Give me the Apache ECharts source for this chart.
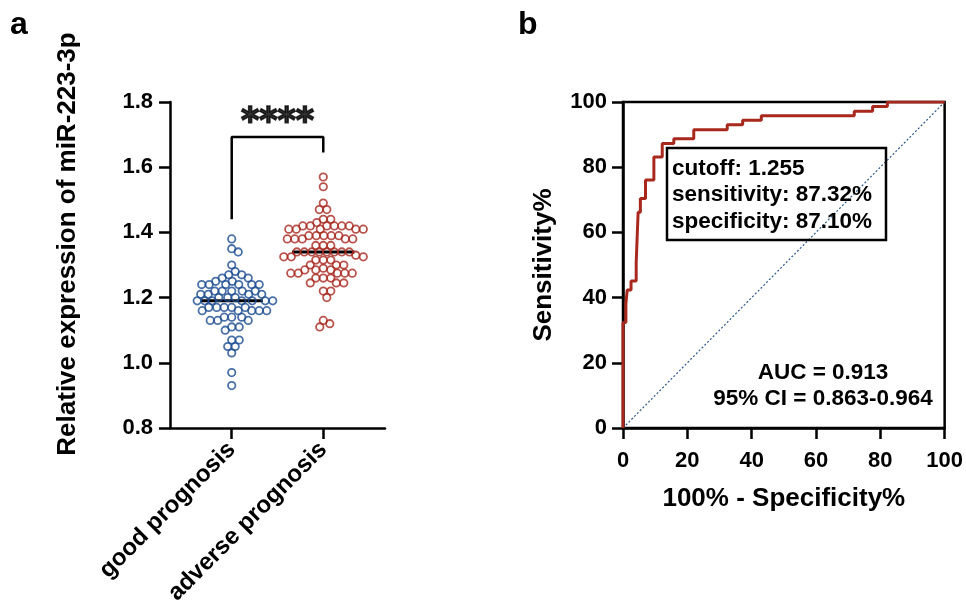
<!DOCTYPE html>
<html>
<head>
<meta charset="utf-8">
<script src="https://cdn.jsdelivr.net/npm/echarts@6/dist/echarts.min.js"></script>
<style>
  html, body { margin: 0; padding: 0; background: #fff; }
  #chart { width: 966px; height: 615px; }
</style>
</head>
<body>
<div id="chart"></div>
<script>
// panel a: relative expression per patient
const groupNames = ['good prognosis', 'adverse prognosis'];
const goodPrognosis = [
  1.38, 1.35, 1.34, 1.30, 1.28, 1.27, 1.27,
  1.26, 1.26, 1.25, 1.25,
  1.24, 1.24, 1.24, 1.24, 1.24, 1.24,
  1.22, 1.22, 1.22, 1.22, 1.22,
  1.21, 1.21, 1.21, 1.21,
  1.20, 1.20, 1.20,
  1.19, 1.19, 1.19, 1.19, 1.19, 1.19, 1.19,
  1.17, 1.17, 1.17, 1.17, 1.17,
  1.16, 1.16, 1.16, 1.16, 1.16,
  1.14, 1.14, 1.14,
  1.13, 1.13, 1.13,
  1.11, 1.11, 1.10,
  1.07, 1.07, 1.05, 1.05, 1.03,
  0.97, 0.93
];
const adversePrognosis = [
  1.57, 1.54, 1.49, 1.47, 1.47, 1.44, 1.44, 1.43,
  1.42, 1.42, 1.42, 1.42, 1.42, 1.42,
  1.41, 1.41, 1.41, 1.41, 1.41,
  1.39, 1.39, 1.39, 1.39, 1.39,
  1.38, 1.38, 1.38, 1.38, 1.38,
  1.36, 1.36, 1.36,
  1.34, 1.34, 1.34, 1.34, 1.34, 1.34, 1.34, 1.34,
  1.33, 1.325, 1.325, 1.325, 1.315, 1.315, 1.315,
  1.30, 1.30, 1.30, 1.29, 1.285, 1.285, 1.285,
  1.275, 1.275, 1.275, 1.275, 1.275,
  1.26, 1.26, 1.26, 1.245, 1.245, 1.245,
  1.22, 1.22, 1.20, 1.13, 1.12, 1.11
];
const exprTicks = [0.8, 1.0, 1.2, 1.4, 1.6, 1.8];
const significance = '****';

// panel b: ROC corners (100% - specificity, sensitivity)
const rocFpr = [0, 0.9, 1.3, 2.5, 4.1, 4.7, 5.4, 7.0, 9.6, 12.2, 15.8, 22, 32.4, 37.2, 43, 71.9, 77.6, 82.2, 100];
const rocTpr = [0, 32.4, 38.0, 42.3, 45.1, 50.7, 66.2, 70.4, 76.1, 83.1, 87.3, 88.7, 91.5, 93.0, 94.4, 95.8, 97.2, 98.6, 100];
const rocTicks = [0, 20, 40, 60, 80, 100];
const cutoffText = ['cutoff: 1.255', 'sensitivity: 87.32%', 'specificity: 87.10%'];
const aucText = ['AUC = 0.913', '95% CI = 0.863-0.964'];

const FONT = '"Liberation Sans", Arial, sans-serif';
const BLUE = '#1d4e91';
const RED = '#a8281e';

// left plot geometry (px) used for the beeswarm spread
const A_LEFT = 170, A_W = 215, A_TOP = 102, A_H = 326;
const X_MIN = 0.326, X_MAX = 2.674;
const pxPerX = A_W / (X_MAX - X_MIN);
const pxPerY = A_H / (exprTicks[exprTicks.length - 1] - exprTicks[0]);

function swarm(vals, center) {
  const d = 7.2;
  const placed = [];
  const out = [];
  vals.slice().sort((a, b) => b - a).forEach(v => {
    const py = v * pxPerY;
    let off = 0;
    for (let k = 0; k < 400; k++) {
      const cand = (k % 2 ? 1 : -1) * Math.ceil(k / 2) * 0.5;
      const ok = placed.every(p => (cand - p.x) ** 2 + (py - p.y) ** 2 >= d * d);
      if (ok) { off = cand; break; }
    }
    placed.push({ x: off, y: py });
    out.push([center + off / pxPerX, v]);
  });
  return out;
}

function median(vals) {
  const s = vals.slice().sort((a, b) => a - b);
  const m = Math.floor(s.length / 2);
  return s.length % 2 ? s[m] : (s[m - 1] + s[m]) / 2;
}

const goodMed = median(goodPrognosis);
const advMed = median(adversePrognosis);
const halfW = 0.34;

const rocLine = [];
for (let i = 0; i < rocFpr.length; i++) {
  if (i > 0) rocLine.push([rocFpr[i - 1], rocTpr[i]]);
  rocLine.push([rocFpr[i], rocTpr[i]]);
}

const axisText = { color: '#000', fontFamily: FONT, fontWeight: 'bold', fontSize: 22 };
const nameText = { color: '#000', fontFamily: FONT, fontWeight: 'bold', fontSize: 26 };
const blackLine = { lineStyle: { color: '#000', width: 2.5 } };
const blackTick = { length: 11, lineStyle: { color: '#000', width: 2.5 } };

const chart = echarts.init(document.getElementById('chart'), null, { renderer: 'canvas' });
chart.setOption({
  animation: false,
  backgroundColor: '#fff',
  grid: [
    { left: A_LEFT, top: A_TOP, width: A_W, height: A_H },
    { left: 623, top: 102, width: 324, height: 326, show: true, borderColor: '#000', borderWidth: 2.5, backgroundColor: 'transparent' }
  ],
  xAxis: [
    {
      gridIndex: 0, type: 'value', min: X_MIN, max: X_MAX,
      splitLine: { show: false },
      axisLine: blackLine,
      axisTick: Object.assign({ show: true, customValues: [1, 2] }, blackTick),
      axisLabel: Object.assign({}, axisText, {
        fontSize: 24, rotate: 45, margin: 18,
        customValues: [1, 2],
        formatter: v => groupNames[Math.round(v) - 1]
      })
    },
    {
      gridIndex: 1, type: 'value', min: 0, max: 100, interval: 20,
      splitLine: { show: false },
      axisLine: blackLine,
      axisTick: blackTick,
      axisLabel: Object.assign({}, axisText, { margin: 22 }),
      name: '100% - Specificity%', nameLocation: 'middle', nameGap: 58,
      nameTextStyle: nameText
    }
  ],
  yAxis: [
    {
      gridIndex: 0, type: 'value', min: 0.8, max: 1.8, interval: 0.2,
      splitLine: { show: false },
      axisLine: blackLine,
      axisTick: blackTick,
      axisLabel: Object.assign({}, axisText, { margin: 17, formatter: v => v.toFixed(1) })
    },
    {
      gridIndex: 1, type: 'value', min: 0, max: 100, interval: 20,
      splitLine: { show: false },
      axisLine: blackLine,
      axisTick: blackTick,
      axisLabel: Object.assign({}, axisText, { margin: 16 }),
      name: 'Sensitivity%', nameLocation: 'middle', nameGap: 66,
      nameTextStyle: nameText
    }
  ],
  series: [
    {
      type: 'line', xAxisIndex: 0, yAxisIndex: 0, symbol: 'none', z: 1,
      data: [[1 - halfW, goodMed], [1 + halfW, goodMed]],
      lineStyle: { color: '#000', width: 3 }
    },
    {
      type: 'line', xAxisIndex: 0, yAxisIndex: 0, symbol: 'none', z: 1,
      data: [[2 - halfW, advMed], [2 + halfW, advMed]],
      lineStyle: { color: '#000', width: 3 }
    },
    {
      name: groupNames[0], type: 'scatter', xAxisIndex: 0, yAxisIndex: 0, z: 3,
      symbol: 'circle', symbolSize: 7.4,
      itemStyle: { color: 'rgba(0,0,0,0)', borderColor: BLUE, borderWidth: 1.8 },
      data: swarm(goodPrognosis, 1)
    },
    {
      name: groupNames[1], type: 'scatter', xAxisIndex: 0, yAxisIndex: 0, z: 3,
      symbol: 'circle', symbolSize: 7.4,
      itemStyle: { color: 'rgba(0,0,0,0)', borderColor: RED, borderWidth: 1.8 },
      data: swarm(adversePrognosis, 2)
    },
    {
      type: 'line', xAxisIndex: 0, yAxisIndex: 0, symbol: 'none', z: 2,
      data: [[1, 1.44], [1, 1.693], [2, 1.693], [2, 1.645]],
      lineStyle: { color: '#000', width: 2.5 }
    },
    {
      type: 'scatter', xAxisIndex: 0, yAxisIndex: 0, symbolSize: 0,
      data: [[1.5, 1.735]],
      label: { show: true, formatter: significance, position: 'inside', color: '#000',
        textBorderColor: '#000', textBorderWidth: 1.6,
        fontFamily: '"DejaVu Sans", sans-serif', fontWeight: 'bold', fontSize: 35 }
    },
    {
      type: 'line', xAxisIndex: 1, yAxisIndex: 1, symbol: 'none', z: 2,
      data: [[0, 0], [100, 100]],
      lineStyle: { color: '#2f5a8f', width: 1.2, type: [2, 2] }
    },
    {
      type: 'line', xAxisIndex: 1, yAxisIndex: 1, symbol: 'none', z: 3,
      data: rocLine,
      lineStyle: { color: RED, width: 3 }
    }
  ],
  graphic: [
    { type: 'text', left: 10, top: 9, style: { text: 'a', font: 'bold 32px ' + FONT, fill: '#000' } },
    { type: 'text', left: 518, top: 9, style: { text: 'b', font: 'bold 32px ' + FONT, fill: '#000' } },
    {
      type: 'text', x: 68, y: 244, rotation: Math.PI / 2,
      style: { text: 'Relative expression of miR-223-3p', font: 'bold 26px ' + FONT, fill: '#000', align: 'center', verticalAlign: 'middle' }
    },
    {
      type: 'rect', shape: { x: 667, y: 148, width: 219, height: 92 },
      style: { fill: 'none', stroke: '#000', lineWidth: 2.5 }, z: 10
    },
    {
      type: 'text', x: 672, y: 195, z: 10,
      style: { text: cutoffText.join('\n'), font: 'bold 22.5px ' + FONT, lineHeight: 26.5, fill: '#000', align: 'left', verticalAlign: 'middle' }
    },
    {
      type: 'text', x: 823, y: 386, z: 10,
      style: { text: aucText.join('\n'), font: 'bold 22.5px ' + FONT, lineHeight: 26.5, fill: '#000', align: 'center', verticalAlign: 'middle' }
    }
  ]
});
</script>
</body>
</html>
